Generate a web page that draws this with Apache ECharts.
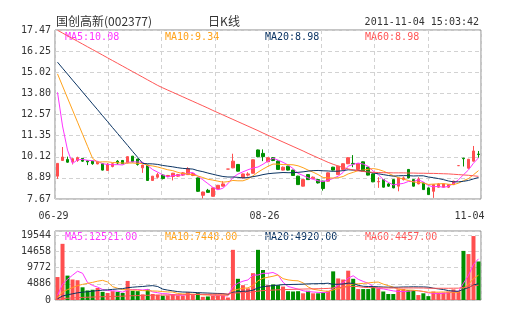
<!DOCTYPE html>
<html><head><meta charset="utf-8">
<script src="https://cdn.jsdelivr.net/npm/echarts@6/dist/echarts.min.js"></script>
<style>html,body{margin:0;padding:0;background:#fff}#c{width:505px;height:330px}</style>
</head><body><div id="c"></div>
<script>
const dates = ['06-29','06-30','07-01','07-04','07-05','07-06','07-07','07-08','07-11','07-12',
 '07-13','07-14','07-15','07-18','07-19','07-20','07-21','07-22','07-25','07-26',
 '07-27','07-28','07-29','08-02','08-03','08-04','08-05','08-08','08-09','08-10',
 '08-11','08-12','08-15','08-16','08-17','08-18','08-19','08-22','08-23','08-24',
 '08-25','08-26','08-29','08-30','08-31','09-01','09-02','09-05','09-06','09-07',
 '09-08','09-09','09-13','09-14','09-15','09-16','09-19','09-20','09-21','09-22',
 '09-23','09-26','09-27','09-28','09-29','09-30','10-10','10-11','10-12','10-13',
 '10-14','10-17','10-18','10-19','10-20','10-21','10-25','10-26','10-27','10-28',
 '10-31','11-01','11-02','11-03','11-04'];
const openP = [8.99,9.90,9.96,9.82,9.90,10.02,9.88,9.86,9.70,9.71,
 9.32,9.55,9.86,9.90,9.76,10.15,9.98,9.47,9.63,8.74,
 8.93,9.05,8.97,8.97,8.99,9.05,9.08,9.03,8.89,7.88,
 8.17,7.82,8.25,8.41,9.40,9.47,9.67,8.89,9.05,9.16,
 10.51,10.31,9.82,10.06,9.86,9.34,9.57,9.34,8.99,8.41,
 9.08,8.85,8.79,8.70,8.70,9.51,9.08,9.38,9.71,9.73,
 9.38,9.82,9.51,9.12,8.66,8.79,8.54,8.79,8.41,8.79,
 9.38,8.79,8.54,8.60,8.31,8.11,8.35,8.35,8.35,8.50,
 9.60,10.03,9.45,9.86,10.27];
const closeP = [9.73,10.10,9.80,10.00,10.06,9.86,9.82,9.71,9.82,9.34,
 9.67,9.71,9.75,9.71,10.12,9.82,9.67,9.63,8.74,8.99,
 9.08,8.85,9.03,9.16,9.08,9.18,9.42,9.14,8.11,8.07,
 8.05,8.31,8.46,8.54,9.40,9.86,9.28,9.12,9.12,9.94,
 10.12,10.12,10.06,9.90,9.38,9.51,9.34,9.03,8.50,8.79,
 8.79,8.93,8.60,8.27,9.18,9.34,9.57,9.71,10.06,9.69,
 9.71,9.28,9.05,8.66,8.68,8.35,8.41,8.31,8.89,8.89,
 8.89,8.41,8.83,8.21,7.92,8.50,8.54,8.54,8.50,8.70,
 9.60,10.00,9.97,10.45,10.25];
const lowP = [8.83,9.88,9.77,9.67,9.82,9.82,9.63,9.65,9.68,9.32,
 9.30,9.50,9.67,9.69,9.74,9.80,9.60,9.18,8.72,8.72,
 8.85,8.80,8.93,8.74,8.95,9.00,9.06,8.99,8.07,7.70,
 8.03,7.80,8.23,8.39,9.40,9.45,9.26,8.87,8.97,9.14,
 10.08,9.86,9.80,9.86,9.36,9.32,9.32,9.00,8.48,8.39,
 8.77,8.83,8.56,8.15,8.68,9.32,9.06,9.36,9.69,9.51,
 9.36,9.26,9.03,8.64,8.31,8.33,8.37,8.29,8.11,8.74,
 8.87,8.39,8.52,8.19,7.90,7.73,8.33,8.33,8.30,8.48,
 9.60,9.55,9.43,9.84,10.06];
const highP = [9.75,10.68,10.12,10.03,10.12,10.04,9.90,9.88,9.85,9.73,
 9.75,9.75,9.92,9.92,10.14,10.16,10.00,9.65,9.65,9.00,
 9.18,9.10,9.06,9.18,9.12,9.22,9.51,9.18,8.91,8.09,
 8.25,8.33,8.48,8.70,9.40,10.29,9.69,9.14,9.22,9.96,
 10.53,10.54,10.08,10.10,9.90,9.55,9.59,9.36,9.01,8.81,
 9.10,8.97,8.81,8.72,9.20,9.53,9.59,9.73,10.08,10.21,
 9.73,9.84,9.53,9.14,8.93,8.81,8.58,8.81,8.91,8.97,
 9.40,8.81,8.93,8.62,8.33,8.52,8.58,8.56,8.52,8.72,
 9.60,10.05,9.99,10.74,10.45];
const ma5 = [13.85,11.90,10.50,9.72,9.94,9.96,9.91,9.89,9.85,9.71,
 9.67,9.65,9.66,9.64,9.79,9.82,9.81,9.79,9.60,9.37,
 9.22,9.06,8.94,9.02,9.04,9.06,9.17,9.20,8.99,8.78,
 8.56,8.34,8.20,8.29,8.55,8.91,9.11,9.24,9.36,9.46,
 9.52,9.68,9.87,10.03,9.92,9.79,9.64,9.43,9.15,9.03,
 8.89,8.81,8.72,8.68,8.75,8.86,8.99,9.21,9.57,9.67,
 9.75,9.69,9.56,9.28,9.08,8.80,8.63,8.48,8.53,8.57,
 8.68,8.68,8.78,8.65,8.45,8.37,8.40,8.34,8.40,8.56,
 8.78,9.07,9.35,9.74,10.05];
const ma10 = [14.92,14.22,13.52,12.82,12.12,11.42,10.72,10.02,9.80,9.82,
 9.82,9.78,9.77,9.75,9.75,9.75,9.73,9.72,9.62,9.58,
 9.52,9.44,9.36,9.31,9.21,9.14,9.12,9.07,9.00,8.91,
 8.81,8.76,8.70,8.64,8.67,8.74,8.72,8.72,8.82,9.01,
 9.22,9.40,9.56,9.69,9.69,9.66,9.66,9.65,9.59,9.48,
 9.34,9.22,9.08,8.91,8.89,8.88,8.90,8.97,9.12,9.21,
 9.31,9.34,9.39,9.43,9.38,9.28,9.16,9.02,8.90,8.82,
 8.74,8.65,8.63,8.59,8.51,8.53,8.54,8.56,8.52,8.50,
 8.58,8.73,8.85,9.07,9.31];
const ma20 = [15.60,15.25,14.91,14.56,14.22,13.87,13.53,13.18,12.84,12.49,
 12.15,11.80,11.46,11.11,10.77,10.42,10.08,9.73,9.71,9.70,
 9.67,9.61,9.57,9.53,9.48,9.44,9.42,9.40,9.31,9.25,
 9.17,9.10,9.03,8.97,8.94,8.94,8.92,8.89,8.91,8.96,
 9.01,9.08,9.13,9.16,9.18,9.20,9.19,9.19,9.21,9.24,
 9.28,9.31,9.32,9.30,9.29,9.27,9.28,9.31,9.36,9.34,
 9.32,9.28,9.23,9.17,9.13,9.08,9.03,8.99,9.01,9.02,
 9.02,9.00,9.01,9.01,8.94,8.90,8.85,8.79,8.71,8.66,
 8.66,8.69,8.74,8.83,8.91];
const ma60 = [17.45,17.29,17.13,16.97,16.81,16.65,16.49,16.33,16.17,16.01,
 15.85,15.69,15.53,15.37,15.21,15.05,14.89,14.73,14.57,14.41,
 14.25,14.11,13.98,13.85,13.72,13.59,13.46,13.33,13.20,13.07,
 12.94,12.80,12.67,12.54,12.41,12.28,12.15,12.02,11.89,11.76,
 11.63,11.49,11.36,11.23,11.10,10.97,10.84,10.71,10.58,10.45,
 10.31,10.18,10.05,9.92,9.79,9.68,9.58,9.49,9.41,9.35,
 9.30,9.26,9.23,9.21,9.20,9.19,9.19,9.18,9.18,9.18,
 9.17,9.17,9.16,9.16,9.15,9.15,9.14,9.13,9.12,9.10,
 9.08,9.06,9.04,9.01,8.98];
const volume = [6920,16930,7350,6180,5960,3830,2880,3090,3620,2450,
 2130,2660,2450,2130,5750,2770,2660,1700,3200,1810,
 1600,1280,1380,1810,1380,1280,2340,1490,2130,960,
 1070,1280,1490,1600,750,15120,6390,4470,3510,8090,
 15120,9050,4470,4690,4470,4050,2660,2560,2660,2020,
 2770,2020,2020,2240,2770,8630,6500,6180,8840,6390,
 3300,3300,3300,4050,3510,2560,1810,1810,3200,3300,
 2980,2980,1490,2020,1170,2560,2240,2240,2560,3200,
 2560,14800,13850,19280,11610];
const volMa5 = [1385,4771,6241,7476,8669,8051,5240,4388,3877,3174,
 2833,2790,2663,2364,3025,3152,3152,3003,3216,2428,
 2194,1917,1853,1576,1491,1427,1640,1661,1725,1640,
 1598,1385,1385,1278,1235,4047,5069,5666,6049,7519,
 7519,8051,8051,8286,7562,5346,4068,3685,3280,2790,
 2535,2407,2300,2215,2364,3536,4430,5261,6582,7306,
 6241,5602,5027,4068,3493,3344,3046,2748,2577,2535,
 2620,2854,2790,2556,2130,2045,1896,2045,2151,2556,
 2556,5069,7391,10735,12418];
const volMa10 = [692,2386,3120,3738,4335,4718,5006,5314,5676,5921,
 5442,4015,3525,3120,3099,2993,2971,2833,2790,2726,
 2673,2535,2428,2396,1960,1811,1779,1757,1651,1566,
 1512,1512,1523,1502,1438,2822,3227,3525,3664,4377,
 5783,6560,6859,7167,7540,6433,6060,5868,5783,5176,
 3941,3238,2993,2748,2577,3035,3419,3781,4398,4835,
 4888,5016,5144,5325,5400,4793,4324,3887,3323,3014,
 2982,2950,2769,2567,2332,2332,2375,2418,2354,2343,
 2300,3483,4718,6443,7487];
const volMa20 = [346,1193,1560,1869,2167,2359,2503,2657,2838,2961,
 3067,3200,3323,3429,3717,3855,3988,4074,4233,4324,
 4058,3275,2977,2758,2529,2402,2375,2295,2221,2146,
 2093,2024,1976,1949,1699,2316,2503,2641,2657,2971,
 3648,4036,4191,4335,4489,4627,4643,4697,4723,4777,
 4862,4899,4926,4958,5059,4734,4739,4824,5091,5006,
 4414,4127,4068,4036,3988,3914,3871,3834,3861,3925,
 3935,3983,3956,3946,3866,3562,3349,3152,2838,2678,
 2641,3216,3743,4505,4910];
const volMa60 = [115,397,520,623,722,786,834,886,946,987,
 1022,1067,1108,1143,1239,1285,1329,1358,1411,1441,
 1468,1489,1512,1542,1566,1587,1626,1651,1686,1702,
 1720,1741,1766,1792,1805,2058,2164,2239,2297,2431,
 2684,2835,2910,2987,3062,3129,3174,3216,3261,3294,
 3341,3374,3408,3445,3491,3635,3743,3847,3994,4100,
 4039,3813,3746,3709,3669,3648,3630,3608,3602,3616,
 3630,3635,3619,3618,3541,3538,3530,3539,3528,3552,
 3568,3794,4001,4292,4462];
const priceTicks = ['7.67','8.89','10.12','11.35','12.57','13.80','15.02','16.25','17.47'];
const volTicks = ['0','4886','9772','14658','19544'];
const priceLegend = ['MA5:10.08','MA10:9.34','MA20:8.98','MA60:8.98'];
const volLegend = ['MA5:12521.00','MA10:7448.00','MA20:4920.00','MA60:4457.00'];
const titleText = '国创高新(002377)';
const centerText = '日K线';
const timeText = '2011-11-04 15:03:42';
const shownDates = [0, 41, 84];

const UP = '#ff4f4f', DOWN = '#008f00';
const COLORS = ['#ff33ff', '#ffa21a', '#0b3463', '#ff5656'];
const MONO = '"DejaVu Sans Mono", monospace';
const CJK = '"Noto Sans CJK SC", sans-serif';
const gridLine = {color: '#d2d2d2', type: [4, 3], width: 1};
const PMIN = 7.665, PSTEP = 1.225;

const kData = dates.map((d, i) => [openP[i], closeP[i], lowP[i], highP[i]]);
const volData = volume.map((v, i) => {
  const up = closeP[i] > openP[i] || (closeP[i] === openP[i] && i > 0 && closeP[i] >= closeP[i - 1]);
  return {value: v, itemStyle: {color: up ? UP : DOWN}};
});

function lineSeries(data, color, xi, yi) {
  return {type: 'line', data: data, xAxisIndex: xi, yAxisIndex: yi, symbol: 'none', showSymbol: false,
    lineStyle: {color: color, width: 1}, itemStyle: {color: color}, z: 5, silent: true};
}
function vGridAxis(gi) {
  return {type: 'value', gridIndex: gi, position: 'top', min: 0, max: 8, interval: 1,
    axisLine: {show: false}, axisTick: {show: false}, axisLabel: {show: false},
    splitLine: {show: true, lineStyle: gridLine}};
}
const legendEls = [];
[65, 165, 265, 365].forEach((x, k) => {
  legendEls.push({type: 'text', x: x, y: 37, style: {text: priceLegend[k], fill: COLORS[k], font: '10px ' + MONO, textAlign: 'left', textVerticalAlign: 'middle', align: 'left', verticalAlign: 'middle'}});
  legendEls.push({type: 'text', x: x, y: 237, style: {text: volLegend[k], fill: COLORS[k], font: '10px ' + MONO, textAlign: 'left', textVerticalAlign: 'middle', align: 'left', verticalAlign: 'middle'}});
});

const chart = echarts.init(document.getElementById('c'));
chart.setOption({
  animation: false,
  backgroundColor: '#fff',
  grid: [
    {left: 55, top: 30, width: 426, height: 169, show: true, borderColor: '#8a8a8a', borderWidth: 1, backgroundColor: 'transparent'},
    {left: 55, top: 231, width: 426, height: 69, show: true, borderColor: '#8a8a8a', borderWidth: 1, backgroundColor: 'transparent'}
  ],
  xAxis: [
    {type: 'category', gridIndex: 0, data: dates, boundaryGap: true,
      axisLine: {show: false}, axisTick: {show: false}, splitLine: {show: false},
      axisLabel: {
        interval: (i) => shownDates.indexOf(i) >= 0,
        margin: 12, color: '#333', fontFamily: MONO, fontSize: 10,
        formatter: (v, i) => (i === 0 ? '{a|' : i === 84 ? '{c|' : '{b|') + v + '}',
        rich: {
          a: {fontFamily: MONO, fontSize: 10, color: '#333', padding: [0, 8, 0, 0]},
          b: {fontFamily: MONO, fontSize: 10, color: '#333', padding: [0, 0, 0, 3]},
          c: {fontFamily: MONO, fontSize: 10, color: '#333', padding: [0, 18, 0, 0]}
        }
      }},
    {type: 'category', gridIndex: 1, data: dates, boundaryGap: true,
      axisLine: {show: false}, axisTick: {show: false}, axisLabel: {show: false}, splitLine: {show: false}},
    vGridAxis(0),
    vGridAxis(1)
  ],
  yAxis: [
    {type: 'value', gridIndex: 0, min: PMIN, max: 17.465, interval: PSTEP,
      axisLine: {show: false}, axisTick: {show: false},
      axisLabel: {margin: 4, color: '#333', fontFamily: MONO, fontSize: 10,
        formatter: (v) => priceTicks[Math.round((v - PMIN) / PSTEP)] || ''},
      splitLine: {show: true, lineStyle: gridLine}},
    {type: 'value', gridIndex: 1, min: 0, max: 20800, interval: 4886,
      axisLine: {show: false}, axisTick: {show: false},
      axisLabel: {margin: 4, color: '#333', fontFamily: MONO, fontSize: 10, padding: [0, 0, 4, 0],
        formatter: (v) => volTicks[Math.round(v / 4886)] && v <= 19544 ? volTicks[Math.round(v / 4886)] : ''},
      splitLine: {show: true, lineStyle: gridLine}}
  ],
  graphic: [
    {type: 'text', x: 56, y: 21, style: {text: titleText, fill: '#333', font: '12px ' + CJK, textVerticalAlign: 'middle', verticalAlign: 'middle'}},
    {type: 'text', x: 224, y: 21, style: {text: centerText, fill: '#333', font: '12px ' + CJK, textAlign: 'center', align: 'center', textVerticalAlign: 'middle', verticalAlign: 'middle'}},
    {type: 'text', x: 479, y: 22, style: {text: timeText, fill: '#333', font: '10px ' + MONO, textAlign: 'right', align: 'right', textVerticalAlign: 'middle', verticalAlign: 'middle'}}
  ].concat(legendEls),
  series: [
    {type: 'candlestick', xAxisIndex: 0, yAxisIndex: 0, data: kData, barWidth: 3,
      itemStyle: {color: UP, color0: DOWN, borderColor: UP, borderColor0: DOWN, borderWidth: 1}, silent: true},
    lineSeries(ma5, COLORS[0], 0, 0),
    lineSeries(ma10, COLORS[1], 0, 0),
    lineSeries(ma20, COLORS[2], 0, 0),
    lineSeries(ma60, COLORS[3], 0, 0),
    {type: 'bar', xAxisIndex: 1, yAxisIndex: 1, data: volData, barWidth: 4, silent: true},
    lineSeries(volMa5, COLORS[0], 1, 1),
    lineSeries(volMa10, COLORS[1], 1, 1),
    lineSeries(volMa20, COLORS[2], 1, 1),
    lineSeries(volMa60, COLORS[3], 1, 1)
  ]
});
</script>
</body></html>
